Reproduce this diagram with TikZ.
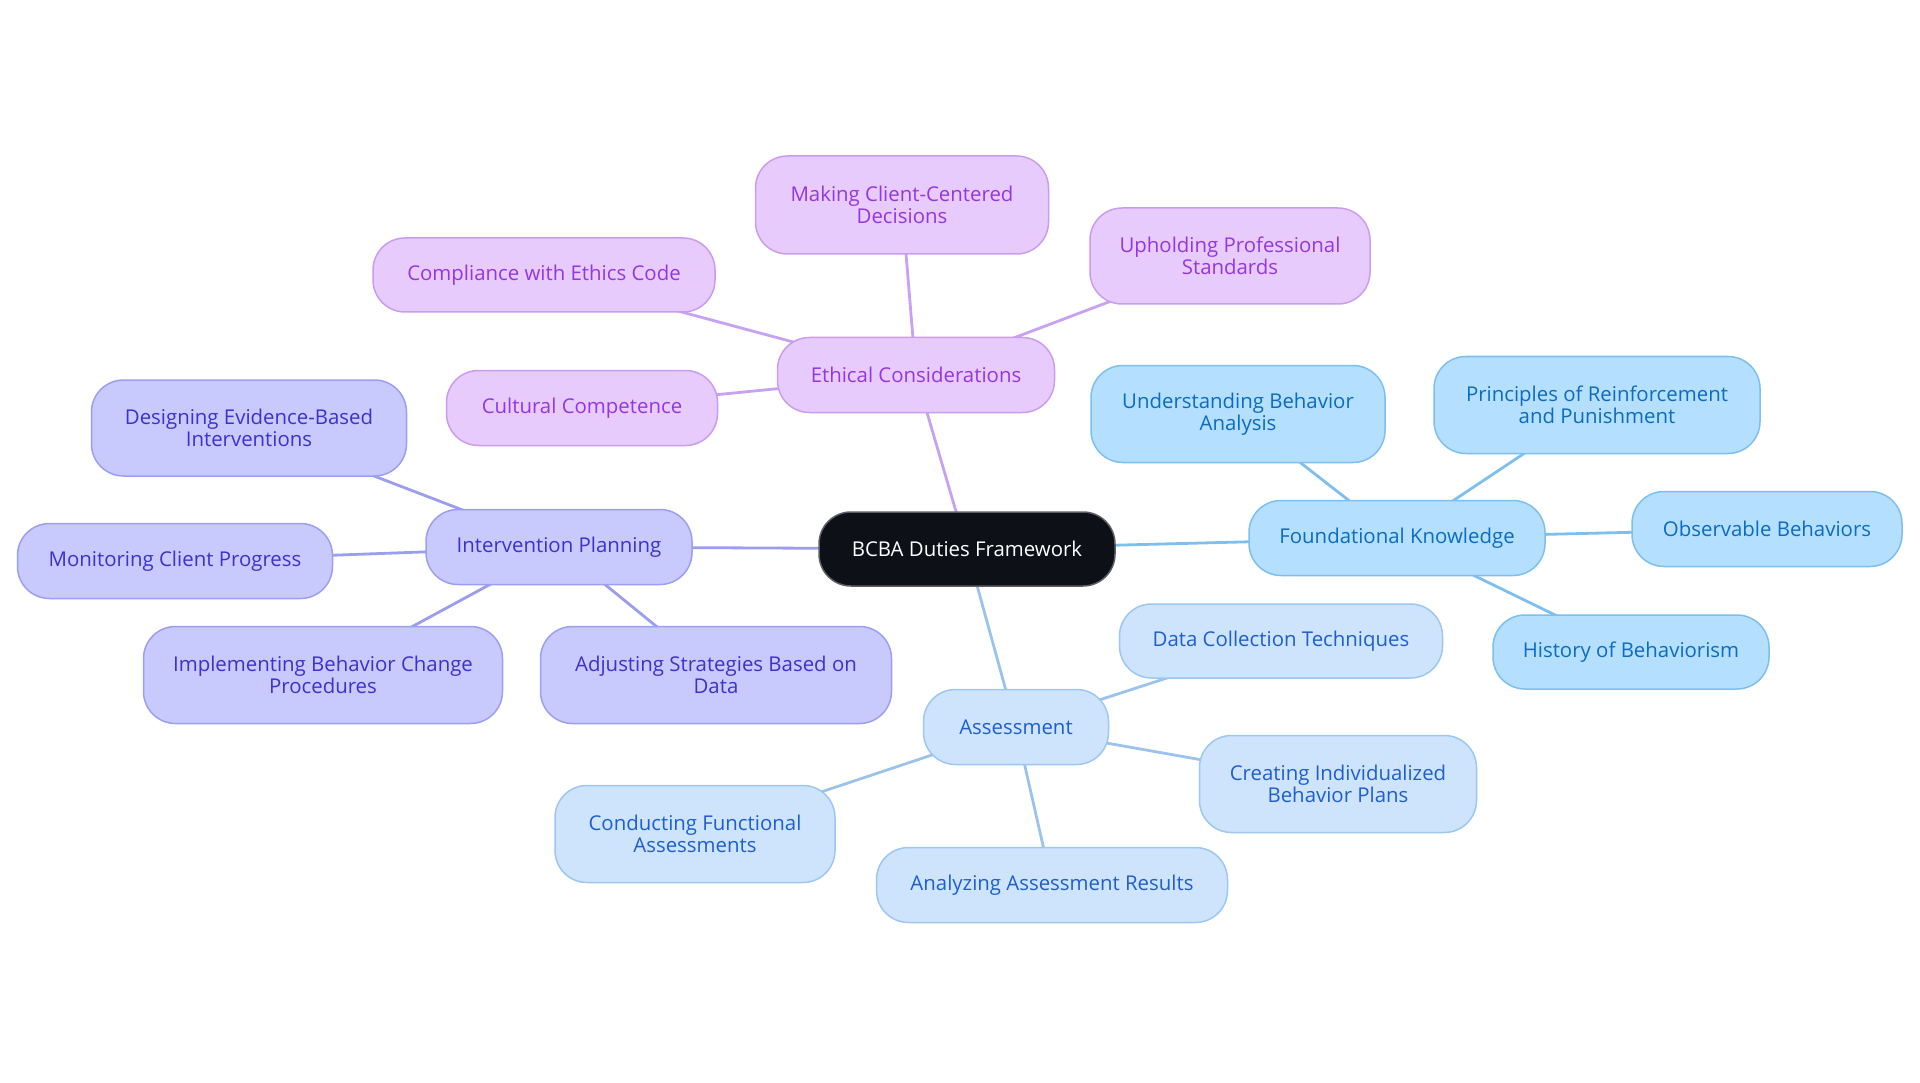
\documentclass[tikz,border=0pt]{standalone}
\usepackage{fontspec}
\setmainfont{Open Sans}
\usetikzlibrary{backgrounds}
\definecolor{rootfill}{HTML}{0D1117}
\definecolor{rootdraw}{HTML}{5A5F66}
\definecolor{pfill}{HTML}{E8CBFD}
\definecolor{pdraw}{HTML}{C99CF0}
\definecolor{ptext}{HTML}{9636E0}
\definecolor{pedge}{HTML}{C8A2F2}
\definecolor{ifill}{HTML}{C8C9FD}
\definecolor{idraw}{HTML}{9C9EF2}
\definecolor{itext}{HTML}{3A33CC}
\definecolor{iedge}{HTML}{9B9DF0}
\definecolor{ffill}{HTML}{B4DFFE}
\definecolor{fdraw}{HTML}{7DBFF0}
\definecolor{ftext}{HTML}{0B6CC2}
\definecolor{fedge}{HTML}{7DBFEF}
\definecolor{afill}{HTML}{CDE4FC}
\definecolor{adraw}{HTML}{9DC6F2}
\definecolor{atext}{HTML}{1E5FCF}
\definecolor{aedge}{HTML}{9CC3EE}
\tikzset{
  base/.style={rectangle, rounded corners=32pt, line width=1.5pt, inner sep=0pt, align=center, font=\fontsize{20.4}{22}\selectfont},
  rootbox/.style={base, fill=rootfill, draw=rootdraw, text=white},
  pbox/.style={base, fill=pfill, draw=pdraw, text=ptext},
  ibox/.style={base, fill=ifill, draw=idraw, text=itext},
  fbox/.style={base, fill=ffill, draw=fdraw, text=ftext},
  abox/.style={base, fill=afill, draw=adraw, text=atext},
  sz/.style 2 args={minimum width=#1pt, minimum height=#2pt},
  pline/.style={draw=pedge, line width=2.8pt},
  iline/.style={draw=iedge, line width=2.8pt},
  fline/.style={draw=fedge, line width=2.8pt},
  aline/.style={draw=aedge, line width=2.8pt},
}
\begin{document}
\begin{tikzpicture}[x=1pt,y=-1pt]
\useasboundingbox (0,0) rectangle (1920,1083);
\node[rootbox, sz={296}{74}] (c) at (967,549) {BCBA Duties Framework};
% ethical
\node[pbox, sz={277}{75}] (eth) at (916,375) {Ethical Considerations};
\node[pbox, sz={293}{98}] (mak) at (902,205) {Making Client-Centered\\Decisions};
\node[pbox, sz={342}{74}] (com) at (544,275) {Compliance with Ethics Code};
\node[pbox, sz={280}{96}] (uph) at (1230,256) {Upholding Professional\\Standards};
\node[pbox, sz={271}{75}] (cul) at (582,408) {Cultural Competence};
% intervention
\node[ibox, sz={266}{75}] (int) at (559,547) {Intervention Planning};
\node[ibox, sz={315}{96}] (des) at (249,428) {Designing Evidence-Based\\Interventions};
\node[ibox, sz={315}{75}] (mon) at (175,561) {Monitoring Client Progress};
\node[ibox, sz={359}{97}] (imp) at (323,675) {Implementing Behavior Change\\Procedures};
\node[ibox, sz={351}{97}] (adj) at (716,675) {Adjusting Strategies Based on\\Data};
% assessment
\node[abox, sz={185}{75}] (ass) at (1016,727) {Assessment};
\node[abox, sz={323}{74}] (dat) at (1281,641) {Data Collection Techniques};
\node[abox, sz={277}{97}] (cre) at (1338,784) {Creating Individualized\\Behavior Plans};
\node[abox, sz={280}{97}] (con) at (695,834) {Conducting Functional\\Assessments};
\node[abox, sz={351}{75}] (ana) at (1052,885) {Analyzing Assessment Results};
% foundational
\node[fbox, sz={296}{75}] (fou) at (1397,538) {Foundational Knowledge};
\node[fbox, sz={294}{97}] (und) at (1238,414) {Understanding Behavior\\Analysis};
\node[fbox, sz={326}{97}] (pri) at (1597,405) {Principles of Reinforcement\\and Punishment};
\node[fbox, sz={270}{75}] (obs) at (1767,529) {Observable Behaviors};
\node[fbox, sz={276}{74}] (his) at (1631,652) {History of Behaviorism};
\begin{pgfonlayer}{background}
\draw[pline] (c.center) -- (eth.center);
\draw[pline] (eth.center) -- (mak.center);
\draw[pline] (eth.center) -- (com.center);
\draw[pline] (eth.center) -- (uph.center);
\draw[pline] (eth.center) -- (cul.center);
\draw[iline] (c.center) -- (int.center);
\draw[iline] (int.center) -- (des.center);
\draw[iline] (int.center) -- (mon.center);
\draw[iline] (int.center) -- (imp.center);
\draw[iline] (int.center) -- (adj.center);
\draw[aline] (c.center) -- (ass.center);
\draw[aline] (ass.center) -- (dat.center);
\draw[aline] (ass.center) -- (cre.center);
\draw[aline] (ass.center) -- (con.center);
\draw[aline] (ass.center) -- (ana.center);
\draw[fline] (c.center) -- (fou.center);
\draw[fline] (fou.center) -- (und.center);
\draw[fline] (fou.center) -- (pri.center);
\draw[fline] (fou.center) -- (obs.center);
\draw[fline] (fou.center) -- (his.center);
\end{pgfonlayer}
\end{tikzpicture}
\end{document}
